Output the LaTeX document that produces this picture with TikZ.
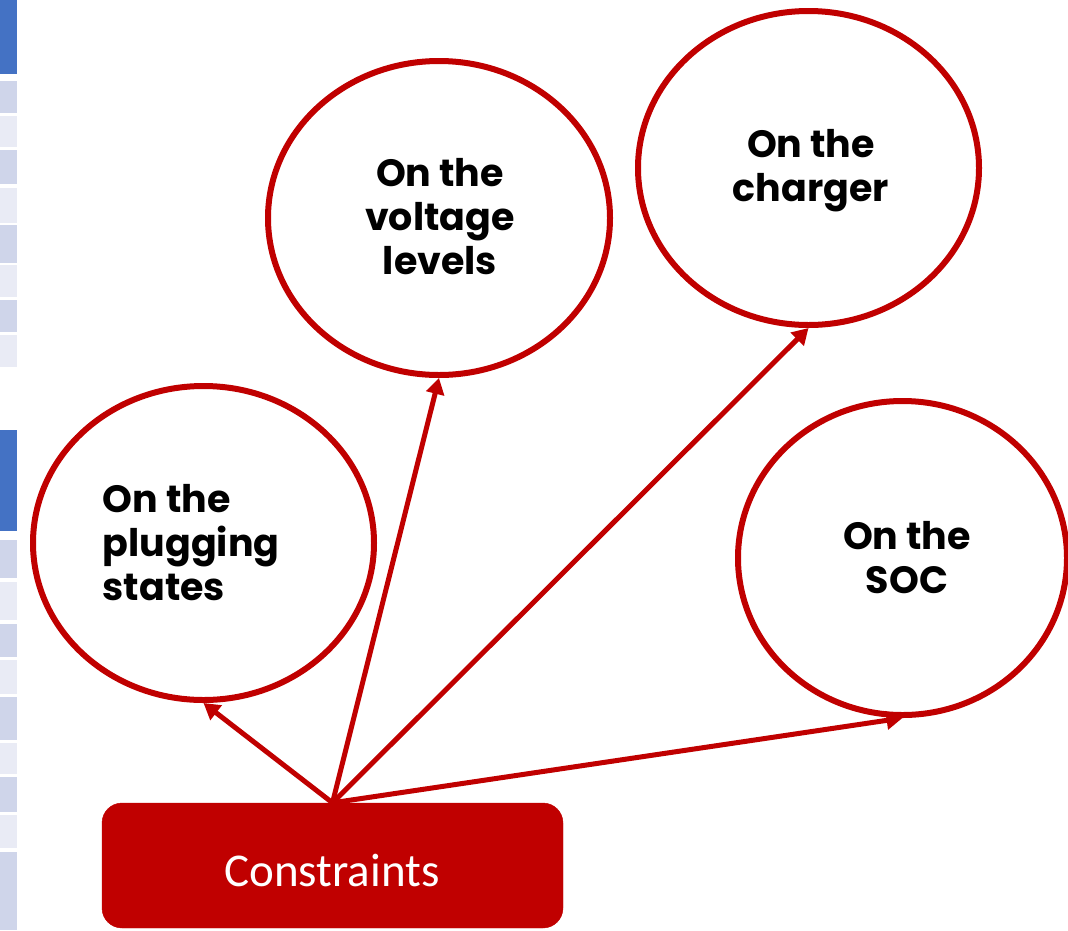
\documentclass[tikz,border=0pt]{standalone}
\usepackage{fontspec}
\usetikzlibrary{arrows.meta,shapes.geometric}
\newfontfamily\bubblefont{Poppins}
\newfontfamily\boxfont{Carlito}
\definecolor{deepred}{HTML}{C00000}
\definecolor{hdrblue}{HTML}{4472C4}
\definecolor{rowdark}{HTML}{CFD5EA}
\definecolor{rowlight}{HTML}{E9EBF5}
\tikzset{
  bubble/.style={ellipse, draw=deepred, line width=6pt, inner sep=0pt},
  bubbletext/.style={font=\bubblefont\bfseries\fontsize{38}{44}\selectfont, text=black, inner sep=0pt},
  rootbox/.style={rectangle, rounded corners=20pt, fill=deepred, draw=deepred,
    minimum width=461pt, minimum height=125pt, inner sep=0pt},
  roottext/.style={font=\boxfont\fontsize{47}{56}\selectfont, text=white, inner sep=0pt},
  link/.style={draw=deepred, line width=5pt, -{Triangle[length=16pt,width=18pt]}},
}
\begin{document}
\begin{tikzpicture}[x=1pt, y=-1pt]
\useasboundingbox (0,0) rectangle (1068,930);
\clip (0,0) rectangle (1068,930);

% table strip along the left edge
\fill[hdrblue] (0,0) rectangle (17,74);
\foreach \ya/\yb/\c in {81/113/rowdark, 116/147/rowlight, 150/184/rowdark, 188/223/rowlight,
  225/263/rowdark, 265/297/rowlight, 300/332/rowdark, 335/367/rowlight}
  \fill[\c] (0,\ya) rectangle (17,\yb);
\fill[hdrblue] (0,430) rectangle (17,531);
\foreach \ya/\yb/\c in {540/578/rowdark, 582/620/rowlight, 624/657/rowdark, 660/694/rowlight,
  697/740/rowdark, 743/774/rowlight, 777/812/rowdark, 815/848/rowlight, 852/930/rowdark}
  \fill[\c] (0,\ya) rectangle (17,\yb);

% bubbles
\node[bubble, minimum width=341pt, minimum height=314pt] (plug) at (203.5,543) {};
\node[bubble, minimum width=342pt, minimum height=314pt] (volt) at (439,218) {};
\node[bubble, minimum width=341pt, minimum height=314pt] (chrg) at (808.5,168) {};
\node[bubble, minimum width=329pt, minimum height=314pt] (soc) at (902.5,558) {};

\node[bubbletext, align=left]   (plugt) at (191,543) {On the\\plugging\\states};
\node[bubbletext, align=center] (voltt) at (440,217) {On the\\voltage\\levels};
\node[bubbletext, align=center] (chrgt) at (811,171) {On the\\charger};
\node[bubbletext, align=center] (soct)  at (907,558) {On the\\SOC};

% root box
\node[rootbox] (root) at (332.5,865.5) {};
\node[roottext] (rootlabel) at (332,870) {Constraints};

% connectors
\draw[link] (root.north) -- (plug.south);
\draw[link] (root.north) -- (volt.south);
\draw[link] (root.north) -- (chrg.south);
\draw[link] (root.north) -- (soc.south);
\end{tikzpicture}
\end{document}
